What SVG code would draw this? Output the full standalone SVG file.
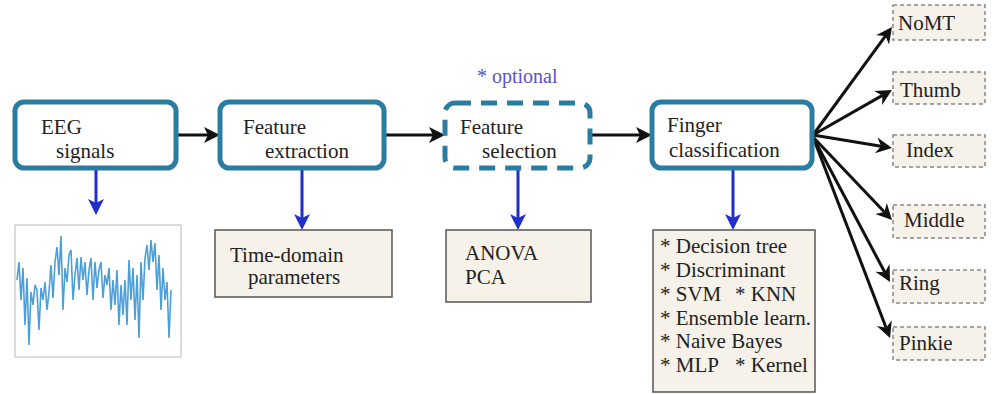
<svg xmlns="http://www.w3.org/2000/svg" width="995" height="394" viewBox="0 0 995 394">
<rect width="995" height="394" fill="#fff"/>
<g id="connectors">
<g fill="none" stroke="#111" stroke-width="3">
<line x1="176" y1="135" x2="209" y2="135"/>
<line x1="385" y1="135" x2="434" y2="135"/>
<line x1="592" y1="135" x2="641" y2="135"/>
<line x1="813" y1="135" x2="885.5" y2="35.9"/>
<line x1="813" y1="135" x2="882.4" y2="95.4"/>
<line x1="813" y1="135" x2="881.1" y2="146.2"/>
<line x1="813" y1="137" x2="884.4" y2="212"/>
<line x1="813" y1="137" x2="884.8" y2="272.3"/>
<line x1="813" y1="137" x2="886.1" y2="327.7"/>
</g>
<g fill="#111">
<polygon points="220,135 204,127 208,135 204,143"/>
<polygon points="445,135 429,127 433,135 429,143"/>
<polygon points="652,135 636,127 640,135 636,143"/>
<polygon points="892,27 889,44.6 885.5,35.9 876.1,35.2"/>
<polygon points="892,90 882.1,104.9 882.4,95.4 874.1,91"/>
<polygon points="892,148 874.9,153.3 881.1,146.2 877.5,137.5"/>
<polygon points="892,220 875.2,213.9 884.4,212 886.8,202.9"/>
<polygon points="890,282 875.4,271.7 884.8,272.3 889.6,264.1"/>
<polygon points="890,338 876.8,326 886.1,327.7 891.8,320.2"/>
</g>
<g fill="none" stroke="#1f2fc8" stroke-width="3">
<line x1="96" y1="170" x2="96" y2="204"/>
<line x1="302" y1="170" x2="302" y2="219"/>
<line x1="518" y1="170" x2="518" y2="219"/>
<line x1="733" y1="170" x2="733" y2="219"/>
</g>
<g fill="#1f2fc8">
<polygon points="96,215 88,199 96,203 104,199"/>
<polygon points="302,230 294,214 302,218 310,214"/>
<polygon points="518,230 510,214 518,218 526,214"/>
<polygon points="733,230 725,214 733,218 741,214"/>
</g>
</g>
<g font-family="Liberation Serif, Times New Roman, serif" font-size="21" fill="#222">
<g stroke="#2a7ca3" stroke-width="5">
<g id="eeg"><rect x="15" y="102" width="161" height="66" rx="9" fill="#fff"/><text x="41" y="134" stroke="none">EEG</text><text x="56" y="158" stroke="none">signals</text></g>
<g id="fext"><rect x="220" y="102" width="164" height="66" rx="9" fill="#fff"/><text x="243" y="134" stroke="none">Feature</text><text x="265" y="158" stroke="none">extraction</text></g>
<g id="fsel"><rect x="445" y="103" width="145" height="65" rx="10" fill="#fff" stroke-dasharray="16 10"/><text x="460" y="134" stroke="none">Feature</text><text x="482" y="158" stroke="none">selection</text><text x="477" y="83" stroke="none" fill="#5a50d0" font-size="20">* optional</text></g>
<g id="fcls"><rect x="652" y="102" width="160" height="66" rx="9" fill="#fff"/><text x="667" y="132" stroke="none">Finger</text><text x="669" y="157" stroke="none">classification</text></g>
</g>
<g id="plot"><rect x="15" y="225" width="166" height="132" fill="#fff" stroke="#d0d0d0" stroke-width="1.5"/>
<polyline fill="none" stroke="#4d9fd8" stroke-width="1.6" points="17,280 19,262 21,300 23,268 25,325 27,278 29,345 31,292 33,305 35,285 37,290 39,330 41,288 43,300 45,282 47,310 49,292 51,265 53,298 55,262 57,247 59,275 61,236 63,310 65,268 67,282 69,255 71,250 73,300 75,275 77,258 79,290 81,257 83,280 85,262 87,295 89,270 91,258 93,300 95,262 97,288 99,270 101,262 103,298 105,275 107,285 109,268 111,310 113,280 115,305 117,270 119,325 121,285 123,315 125,280 127,325 129,260 131,300 133,268 135,320 137,275 139,338 141,262 143,300 145,258 147,245 149,270 151,240 153,262 155,243 157,290 159,255 161,310 163,268 165,300 167,282 169,338 171,290"/></g>
<g id="tdp"><rect x="215" y="230" width="177" height="67" fill="#f6f2e9" stroke="#555" stroke-width="1.5"/><text x="230" y="262">Time-domain</text><text x="248" y="284">parameters</text></g>
<g id="anova"><rect x="446" y="230" width="145" height="72" fill="#f6f2e9" stroke="#555" stroke-width="1.5"/><text x="465" y="260">ANOVA</text><text x="465" y="284">PCA</text></g>
<g id="clf"><rect x="653" y="230" width="162" height="162" fill="#f6f2e9" stroke="#555" stroke-width="1.5"/>
<text x="660" y="253">* Decision tree</text>
<text x="660" y="277">* Discriminant</text>
<text x="660" y="301">* SVM<tspan x="735">* KNN</tspan></text>
<text x="660" y="325">* Ensemble learn.</text>
<text x="660" y="348">* Naive Bayes</text>
<text x="660" y="372">* MLP<tspan x="735">* Kernel</tspan></text></g>
<g fill="#f6f2e9" stroke="#888" stroke-width="1.5" stroke-dasharray="4 3">
<g id="nomt"><rect x="893" y="5" width="92" height="35"/><text x="898" y="30" fill="#222" stroke="none">NoMT</text></g>
<g id="thumb"><rect x="893" y="72" width="92" height="32"/><text x="900" y="97" fill="#222" stroke="none">Thumb</text></g>
<g id="index"><rect x="893" y="135" width="92" height="32"/><text x="906" y="157" fill="#222" stroke="none">Index</text></g>
<g id="middle"><rect x="893" y="205" width="92" height="33"/><text x="904" y="227" fill="#222" stroke="none">Middle</text></g>
<g id="ring"><rect x="893" y="270" width="92" height="33"/><text x="899" y="290" fill="#222" stroke="none">Ring</text></g>
<g id="pinkie"><rect x="893" y="327" width="92" height="33"/><text x="899" y="350" fill="#222" stroke="none">Pinkie</text></g>
</g>
</g>
</svg>
